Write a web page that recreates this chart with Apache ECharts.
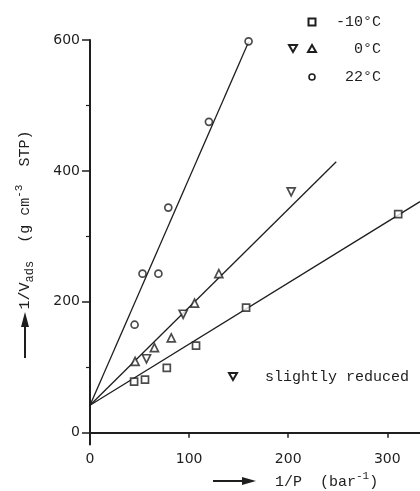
<!DOCTYPE html>
<html>
<head>
<meta charset="utf-8">
<script src="https://cdn.jsdelivr.net/npm/echarts@6/dist/echarts.min.js"></script>
<style>
  html, body { margin: 0; padding: 0; background: #fff; }
  #chart { width: 420px; height: 491px; }
</style>
</head>
<body>
<div id="chart"></div>
<script>
// Axis ticks
const xTickValues = [0, 100, 200, 300];
const yTickValues = [0, 200, 400, 600];
const yMinorTicks = [100, 300, 500];

// Measured points: [1/P (bar^-1), 1/V_ads (g cm^-3 STP)]
const minus10C = [[44.5, 78], [55.5, 81], [77.5, 99], [107, 133], [157.5, 191], [311, 334]];
const zeroC = [[45.5, 109], [65, 130], [82, 145], [105.5, 198], [130, 243]];
const zeroCReduced = [[57, 113], [94, 181], [203, 368]];
const plus22C = [[45, 165], [53, 243], [69, 243], [79, 344], [120, 475], [160, 598]];

// Straight-line fits, end points
const fitMinus10 = [[0, 42], [333, 353]];
const fitZero = [[0, 42], [248.5, 414]];
const fitPlus22 = [[0, 42], [160, 597]];

const ink = '#1e1e1e';
const mono = '"Liberation Mono", "DejaVu Sans Mono", monospace';
const sans = '"DejaVu Sans", "Liberation Sans", sans-serif';

const markerStyle = { color: '#fff', borderColor: ink, borderWidth: 1.7 };

function scatter(data, symbol, size, rotate) {
  return {
    type: 'scatter', data, symbol, symbolSize: size, symbolRotate: rotate || 0,
    itemStyle: markerStyle, z: 5, silent: true
  };
}
function fit(data) {
  return {
    type: 'line', data, symbol: 'none', silent: true,
    lineStyle: { color: ink, width: 1.3 }, z: 3
  };
}

const chart = echarts.init(document.getElementById('chart'), null, { renderer: 'canvas' });

const legendText = { fontFamily: mono, fontSize: 15, fill: ink, textAlign: 'right', textVerticalAlign: 'middle' };

chart.setOption({
  animation: false,
  backgroundColor: '#fff',
  grid: { left: 90, right: 0, top: 40, bottom: 46.5 },
  xAxis: {
    type: 'value', min: 0, max: 333,
    splitLine: { show: false },
    axisLine: { onZero: true, lineStyle: { color: ink, width: 2 } },
    axisTick: { customValues: xTickValues.slice(1), length: 5, lineStyle: { color: ink, width: 1.5 } },
    axisLabel: { customValues: xTickValues, margin: 8, color: ink, fontFamily: sans, fontSize: 14 }
  },
  yAxis: [{
    type: 'value', min: -18, max: 600,
    splitLine: { show: false },
    axisLine: { onZero: false, lineStyle: { color: ink, width: 2 } },
    axisTick: { customValues: yTickValues, length: 8, lineStyle: { color: ink, width: 1.5 } },
    axisLabel: { customValues: yTickValues, margin: 10, color: ink, fontFamily: sans, fontSize: 14 }
  }, {
    type: 'value', min: -18, max: 600, position: 'left',
    splitLine: { show: false },
    axisLine: { show: false, onZero: false },
    axisTick: { customValues: yMinorTicks, length: 4, lineStyle: { color: ink, width: 1.2 } },
    axisLabel: { show: false }
  }],
  series: [
    fit(fitMinus10), fit(fitZero), fit(fitPlus22),
    scatter(minus10C, 'rect', 7),
    scatter(zeroC, 'triangle', 8),
    scatter(zeroCReduced, 'triangle', 8, 180),
    scatter(plus22C, 'circle', 7)
  ],
  graphic: [
    // y-axis title
    {
      type: 'text', x: 25, y: 220, rotation: Math.PI / 2,
      style: {
        text: '{m|1/V}{s|ads}{m|  (g cm}{p|-3}{m|  STP)}',
        align: 'center', verticalAlign: 'middle', fill: ink,
        rich: {
          m: { fontFamily: mono, fontSize: 15, lineHeight: 22, fill: ink },
          s: { fontFamily: mono, fontSize: 12, lineHeight: 10, verticalAlign: 'bottom', fill: ink },
          p: { fontFamily: mono, fontSize: 11, lineHeight: 10, verticalAlign: 'top', fill: ink }
        }
      }
    },
    { type: 'line', shape: { x1: 25, y1: 358, x2: 25, y2: 324 }, style: { stroke: ink, lineWidth: 2 } },
    { type: 'polygon', shape: { points: [[21, 327], [25, 312], [29, 327]] }, style: { fill: ink } },
    // x-axis title
    {
      type: 'text', x: 275, y: 482,
      style: {
        text: '{m|1/P  (bar}{p|-1}{m|)}',
        align: 'left', verticalAlign: 'middle', fill: ink,
        rich: {
          m: { fontFamily: mono, fontSize: 15, lineHeight: 22, fill: ink },
          p: { fontFamily: mono, fontSize: 11, lineHeight: 10, verticalAlign: 'top', fill: ink }
        }
      }
    },
    { type: 'line', shape: { x1: 213, y1: 481, x2: 245, y2: 481 }, style: { stroke: ink, lineWidth: 2 } },
    { type: 'polygon', shape: { points: [[242, 477], [256, 481], [242, 485]] }, style: { fill: ink } },
    // key
    { type: 'rect', shape: { x: 308.5, y: 18.5, width: 7, height: 7 }, style: { fill: '#fff', stroke: ink, lineWidth: 2 } },
    { type: 'text', x: 381, y: 22, style: Object.assign({ text: '-10°C' }, legendText) },
    { type: 'polygon', shape: { points: [[289, 45], [297, 45], [293, 52]] }, style: { fill: '#fff', stroke: ink, lineWidth: 2 } },
    { type: 'polygon', shape: { points: [[308, 52], [316, 52], [312, 45]] }, style: { fill: '#fff', stroke: ink, lineWidth: 2 } },
    { type: 'text', x: 381, y: 49, style: Object.assign({ text: '0°C' }, legendText) },
    { type: 'circle', shape: { cx: 312, cy: 77, r: 3 }, style: { fill: '#fff', stroke: ink, lineWidth: 1.6 } },
    { type: 'text', x: 381, y: 77, style: Object.assign({ text: '22°C' }, legendText) },
    { type: 'polygon', shape: { points: [[229, 373], [237, 373], [233, 380]] }, style: { fill: '#fff', stroke: ink, lineWidth: 2 } },
    { type: 'text', x: 265, y: 377, style: { text: 'slightly reduced', fontFamily: mono, fontSize: 15, fill: ink, textAlign: 'left', textVerticalAlign: 'middle' } }
  ]
});
</script>
</body>
</html>
